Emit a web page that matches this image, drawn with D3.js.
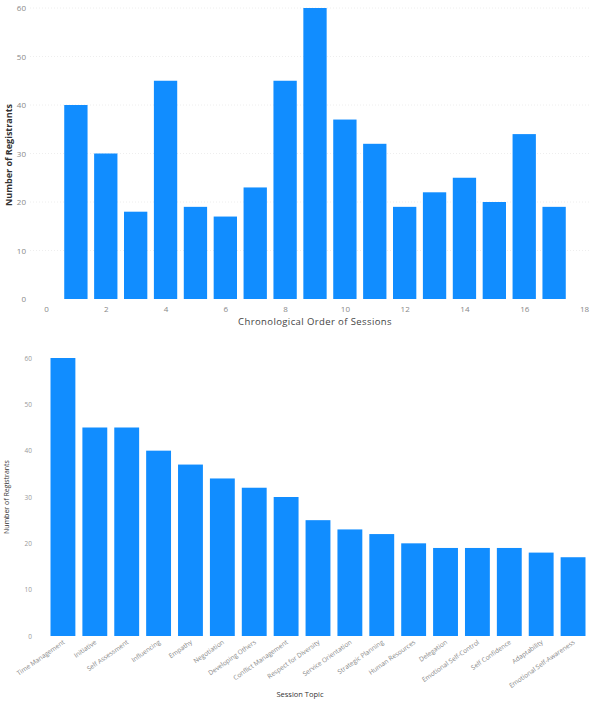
<!DOCTYPE html>
<html>
<head>
<meta charset="utf-8">
<script src="https://cdn.jsdelivr.net/npm/d3@7"></script>
<style>
  body { margin: 0; background: #fff; }
  svg { display: block; font-family: "Open Sans", "DejaVu Sans", sans-serif; }
</style>
</head>
<body>
<div id="chart"></div>
<script>
// chronological order of sessions (top chart)
const sessionOrder = [1, 2, 3, 4, 5, 6, 7, 8, 9, 10, 11, 12, 13, 14, 15, 16, 17]
const sessionRegistrants = [40, 30, 18, 45, 19, 17, 23, 45, 60, 37, 32, 19, 22, 25, 20, 34, 19]
const xTicksTop = [0, 2, 4, 6, 8, 10, 12, 14, 16, 18]
const yTicks = [0, 10, 20, 30, 40, 50, 60]

// session topics (bottom chart)
const topics = ["Time Management", "Initiative", "Self Assessment", "Influencing", "Empathy",
  "Negotiation", "Developing Others", "Conflict Management", "Respect for Diversity",
  "Service Orientation", "Strategic Planning", "Human Resources", "Delegation",
  "Emotional Self-Control", "Self Confidence", "Adaptability", "Emotional Self-Awareness"]
const topicRegistrants = [60, 45, 45, 40, 37, 34, 32, 30, 25, 23, 22, 20, 19, 19, 19, 18, 17]

const barColor = "#118DFF"
const axisFont = "'Open Sans', 'DejaVu Sans', sans-serif"

const svg = d3.select("#chart")
  .append("svg")
    .attr("width", 600)
    .attr("height", 706)

// ---------- top chart ----------
const orderChart = svg.append("g")

const xTop = d3.scaleLinear().domain([0, 18]).range([46, 584])
const yTop = d3.scaleLinear().domain([0, 60]).range([299, 8])

// faint gridlines
orderChart.append("g")
  .selectAll("line")
  .data(yTicks.slice(1))
  .join("line")
    .attr("x1", 30).attr("x2", 590)
    .attr("y1", d => yTop(d)).attr("y2", d => yTop(d))
    .attr("stroke", "#eeeeee")
    .attr("stroke-dasharray", "1,2")

const barW = xTop(0.78) - xTop(0)
orderChart.append("g")
  .selectAll("rect")
  .data(sessionOrder)
  .join("rect")
    .attr("x", (d) => xTop(d) - barW / 2)
    .attr("y", (d, i) => yTop(sessionRegistrants[i]))
    .attr("width", barW)
    .attr("height", (d, i) => yTop(0) - yTop(sessionRegistrants[i]))
    .attr("fill", barColor)

// axes
const yAxisTop = orderChart.append("g")
  .attr("transform", "translate(30,0)")
  .call(d3.axisLeft(yTop).tickValues(yTicks).tickSize(0).tickPadding(4))
  .attr("font-family", axisFont)
yAxisTop.select(".domain").remove()
yAxisTop.selectAll("text").attr("fill", "#888").style("font-size", "8px")

const xAxisTop = orderChart.append("g")
  .attr("transform", "translate(0,303)")
  .call(d3.axisBottom(xTop).tickValues(xTicksTop).tickSize(0).tickPadding(3))
  .attr("font-family", axisFont)
xAxisTop.select(".domain").remove()
xAxisTop.selectAll("text").attr("fill", "#888").style("font-size", "8px")

orderChart.append("text")
  .attr("x", 315).attr("y", 325)
  .attr("text-anchor", "middle")
  .attr("fill", "#444")
  .style("font-size", "9.5px")
  .style("letter-spacing", "0.4px")
  .text("Chronological Order of Sessions")

orderChart.append("text")
  .attr("transform", "translate(12,155) rotate(-90)")
  .attr("text-anchor", "middle")
  .attr("fill", "#333")
  .style("font-size", "9px")
  .style("font-weight", "bold")
  .text("Number of Registrants")

// ---------- bottom chart ----------
const topicChart = svg.append("g")

const xBot = d3.scaleBand().domain(topics).range([47, 589]).paddingInner(0.22).paddingOuter(0.11)
const yBot = d3.scaleLinear().domain([0, 60]).range([636, 358])

topicChart.append("g")
  .selectAll("rect")
  .data(topics)
  .join("rect")
    .attr("x", d => xBot(d))
    .attr("y", (d, i) => yBot(topicRegistrants[i]))
    .attr("width", xBot.bandwidth())
    .attr("height", (d, i) => yBot(0) - yBot(topicRegistrants[i]))
    .attr("fill", barColor)

const yAxisBot = topicChart.append("g")
  .attr("transform", "translate(36,0)")
  .call(d3.axisLeft(yBot).tickValues(yTicks).tickSize(0).tickPadding(4))
  .attr("font-family", axisFont)
yAxisBot.select(".domain").remove()
yAxisBot.selectAll("text").attr("fill", "#999").style("font-size", "6.5px")

const xAxisBot = topicChart.append("g")
  .attr("transform", "translate(0,640)")
  .call(d3.axisBottom(xBot).tickSize(0).tickPadding(0))
  .attr("font-family", axisFont)
xAxisBot.select(".domain").remove()
xAxisBot.selectAll("text")
  .attr("fill", "#888")
  .style("font-size", "6.5px")
  .attr("text-anchor", "end")
  .attr("dy", "0.3em")
  .attr("y", 2)
  .attr("transform", "rotate(-35)")

topicChart.append("text")
  .attr("x", 300).attr("y", 697)
  .attr("text-anchor", "middle")
  .attr("fill", "#333")
  .style("font-size", "7.5px")
  .text("Session Topic")

topicChart.append("text")
  .attr("transform", "translate(9,497) rotate(-90)")
  .attr("text-anchor", "middle")
  .attr("fill", "#333")
  .style("font-size", "7px")
  .text("Number of Registrants")
</script>
</body>
</html>
